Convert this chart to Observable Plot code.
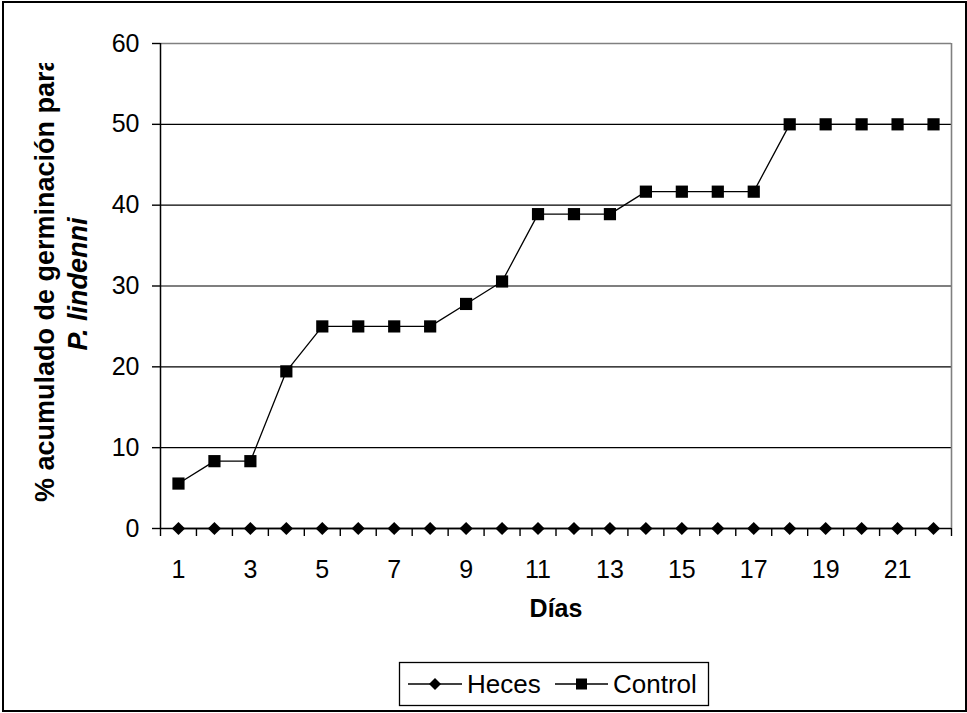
<!DOCTYPE html>
<html><head><meta charset="utf-8">
<script src="https://cdn.jsdelivr.net/npm/d3@7"></script>
<script src="https://cdn.jsdelivr.net/npm/@observablehq/plot@0.6"></script>
<style>
body{margin:0;background:#fff}
#wrap{position:relative;width:967px;height:713px;font-family:"Liberation Sans",Arial,sans-serif}
#frame{position:absolute;left:2px;top:1px;width:965px;height:711px;border:2px solid #000;box-sizing:border-box;pointer-events:none}
</style></head><body>
<div id="wrap"><div id="frame"></div></div>
<script>
const days = [1,2,3,4,5,6,7,8,9,10,11,12,13,14,15,16,17,18,19,20,21,22];
const heces = [0,0,0,0,0,0,0,0,0,0,0,0,0,0,0,0,0,0,0,0,0,0];
const control = [5.56,8.33,8.33,19.44,25,25,25,25,27.78,30.56,38.89,38.89,38.89,41.67,41.67,41.67,41.67,50,50,50,50,50];
const yTicks = [0,10,20,30,40,50,60];
const xTickLabels = [1,3,5,7,9,11,13,15,17,19,21];
const seriesNames = ["Heces","Control"];
const xTitle = "Días";
const yTitle1 = "% acumulado de germinación para";
const yTitle2 = "P. lindenni";

const dataHeces = days.map((d,i)=>({day:d, v:heces[i]}));
const dataControl = days.map((d,i)=>({day:d, v:control[i]}));
const bounds = days.map(d=>d-0.5).concat([days[days.length-1]+0.5]);

const diamond = {draw(ctx, size){const r=Math.sqrt(size/Math.PI);ctx.moveTo(0,-r);ctx.lineTo(r,0);ctx.lineTo(0,r);ctx.lineTo(-r,0);ctx.closePath();}};
const square = {draw(ctx, size){const r=Math.sqrt(size/Math.PI);ctx.rect(-r,-r,2*r,2*r);}};

const chart = Plot.plot({
  width:967, height:713,
  marginTop:43, marginRight:16, marginBottom:185, marginLeft:160,
  style:{fontFamily:'"Liberation Sans", Arial, sans-serif', fontSize:"25px", background:"transparent", color:"#000"},
  x:{domain:[0.5,22.5]},
  y:{domain:[0,60]},
  marks:[
    Plot.gridY([10,20,30,40,50],{stroke:"#000", strokeOpacity:1, strokeWidth:1.2}),
    Plot.ruleY([60],{stroke:"#808080", strokeWidth:1.6}),
    Plot.ruleX([22.5],{stroke:"#808080", strokeWidth:1.6}),
    Plot.ruleX([0.5],{stroke:"#000", strokeWidth:1.5}),
    Plot.ruleY([0],{stroke:"#000", strokeWidth:1.5}),
    Plot.axisY({ticks:yTicks, tickSize:8, tickPadding:13, label:null, strokeWidth:1.4}),
    Plot.axisX({ticks:bounds, tickSize:8, tickFormat:()=>"", label:null, strokeWidth:1.4}),
    Plot.axisX({ticks:xTickLabels, tickSize:0, tickPadding:32, label:null}),
    Plot.lineY(dataHeces,{x:"day", y:"v", stroke:"#000", strokeWidth:1.3}),
    Plot.lineY(dataControl,{x:"day", y:"v", stroke:"#000", strokeWidth:1.3}),
    Plot.dot(dataHeces,{x:"day", y:"v", symbol:diamond, r:6.6, fill:"#000", stroke:null}),
    Plot.dot(dataControl,{x:"day", y:"v", symbol:square, r:6.1, fill:"#000", stroke:null}),
    Plot.text([xTitle],{text:d=>d, frameAnchor:"bottom", dy:88, fontWeight:"bold", fontSize:25})
  ]
});
document.getElementById("wrap").prepend(chart);

const svg = d3.select(chart);
const defs = svg.append("defs");
defs.append("clipPath").attr("id","ytclip").append("rect").attr("x",0).attr("y",63).attr("width",967).attr("height",650);
const yt = svg.append("g").attr("font-weight","bold").attr("font-size",27).attr("fill","#000");
yt.append("g").attr("clip-path","url(#ytclip)")
  .append("text").attr("transform","translate(54,502) rotate(-90)").attr("text-anchor","start").text(yTitle1);
yt.append("text").attr("transform","translate(87,284) rotate(-90)").attr("text-anchor","middle").attr("font-style","italic").text(yTitle2);

// legend
const lg = svg.append("g").attr("font-size",26).attr("fill","#000");
lg.append("rect").attr("x",399.5).attr("y",662.5).attr("width",309).attr("height",43).attr("fill","#fff").attr("stroke","#000").attr("stroke-width",1.3);
const items = [{x0:408, x1:462, name:seriesNames[0], sym:"d", tx:467},{x0:555, x1:608, name:seriesNames[1], sym:"s", tx:613}];
const cy = 684;
items.forEach(it=>{
  lg.append("line").attr("x1",it.x0).attr("x2",it.x1).attr("y1",cy).attr("y2",cy).attr("stroke","#000").attr("stroke-width",1.3);
  const cx=(it.x0+it.x1)/2;
  if(it.sym==="d") lg.append("path").attr("d",`M${cx},${cy-6}L${cx+6},${cy}L${cx},${cy+6}L${cx-6},${cy}Z`).attr("fill","#000");
  else lg.append("rect").attr("x",cx-5.5).attr("y",cy-5.5).attr("width",11).attr("height",11).attr("fill","#000");
  lg.append("text").attr("x",it.tx).attr("y",693).attr("text-anchor","start").text(it.name);
});
</script>
</body></html>
